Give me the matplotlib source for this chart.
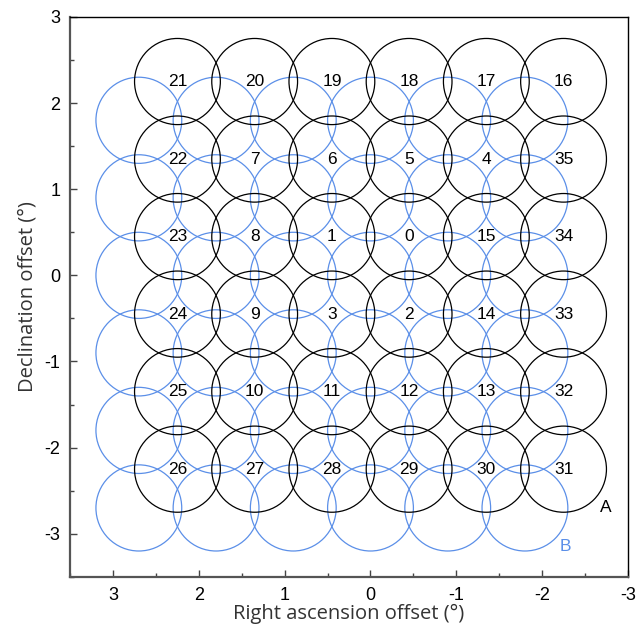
import matplotlib.pyplot as plt
from matplotlib.patches import Circle
from matplotlib.ticker import MultipleLocator

# field centres (degrees)
ra_a = [2.25, 1.35, 0.45, -0.45, -1.35, -2.25]
dec_a = [2.25, 1.35, 0.45, -0.45, -1.35, -2.25]
ra_b = [2.7, 1.8, 0.9, 0.0, -0.9, -1.8]
dec_b = [1.8, 0.9, 0.0, -0.9, -1.8, -2.7]
radius = 0.5

# field numbers, row by row (top to bottom), columns in ra_a order
field_ids = [
    [21, 20, 19, 18, 17, 16],
    [22, 7, 6, 5, 4, 35],
    [23, 8, 1, 0, 15, 34],
    [24, 9, 3, 2, 14, 33],
    [25, 10, 11, 12, 13, 32],
    [26, 27, 28, 29, 30, 31],
]

blue = "#5b8fe8"

fig = plt.figure(figsize=(6.44, 6.27), dpi=100)
ax = fig.add_axes([0.109, 0.080, 0.866, 0.893])

for d in dec_b:
    for r in ra_b:
        ax.add_patch(Circle((r, d), radius, fill=False, ec=blue, lw=0.9))

for i, d in enumerate(dec_a):
    for j, r in enumerate(ra_a):
        ax.add_patch(Circle((r, d), radius, fill=False, ec="black", lw=0.9))
        ax.text(r, d, str(field_ids[i][j]), ha="center", va="center",
                fontsize=12.5, family="Liberation Sans")

ax.text(-2.74, -2.7, "A", ha="center", va="center", fontsize=12.5,
        family="Liberation Sans")
ax.text(-2.27, -3.15, "B", ha="center", va="center", fontsize=12.5,
        family="Liberation Sans", color=blue)

ax.set_xlim(3.5, -3)
ax.set_ylim(-3.5, 3)
ax.xaxis.set_minor_locator(MultipleLocator(0.5))
ax.yaxis.set_minor_locator(MultipleLocator(0.5))
ax.tick_params(which="both", direction="in", top=False, right=False,
               color="#444444", width=1)
ax.tick_params(which="major", length=5, labelsize=13, pad=7)
ax.tick_params(which="minor", length=3)

ax.set_xticks([3, 2, 1, 0, -1, -2, -3])
ax.set_xticklabels(["3", "2", "1", "0", "-1", "-2", "-3"], family="Liberation Sans")
ax.set_yticks([-3, -2, -1, 0, 1, 2, 3])
ax.set_yticklabels(["-3", "-2", "-1", "0", "1", "2", "3"], family="Liberation Sans")

for side in ["left", "bottom"]:
    ax.spines[side].set_color("#555555")
    ax.spines[side].set_linewidth(1.6)
for side in ["top", "right"]:
    ax.spines[side].set_color("black")
    ax.spines[side].set_linewidth(1.0)

ax.set_xlabel("Right ascension offset (°)", fontsize=14.5, color="#333333",
              family="Open Sans", labelpad=0)
ax.set_ylabel("Declination offset (°)", fontsize=14.5, color="#333333",
              family="Open Sans", labelpad=5)

fig.savefig("out.png", dpi=100)
